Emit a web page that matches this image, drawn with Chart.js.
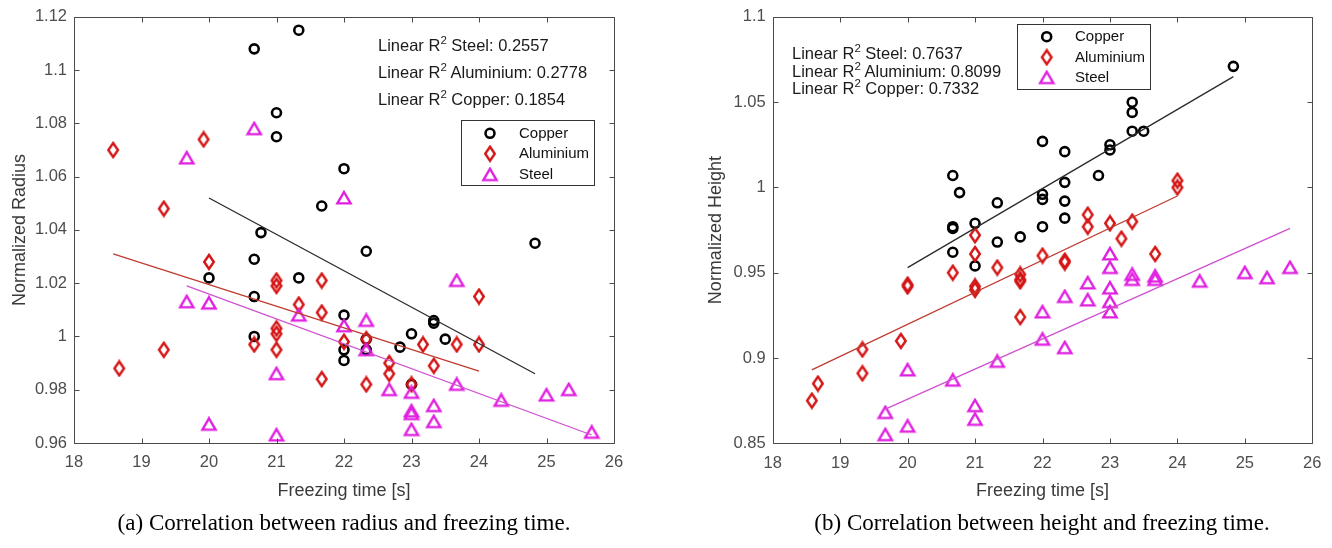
<!DOCTYPE html>
<html>
<head>
<meta charset="utf-8">
<script src="https://cdn.jsdelivr.net/npm/chart.js@4.4.0/dist/chart.umd.min.js"></script>
<style>
  html, body { margin:0; padding:0; background:#fff; }
  body { width:1332px; height:548px; position:relative; overflow:hidden; font-family:'Liberation Sans', Arial, sans-serif; }
  .wrap { position:absolute; top:0; }
  .ann { position:absolute; font-size:16.5px; line-height:20px; color:#1a1a1a; white-space:nowrap; }
  .ann sup { font-size:11.5px; vertical-align:0; position:relative; top:-7px; }
  .cap { position:absolute; width:700px; text-align:center; font-family:'Liberation Serif', 'Times New Roman', serif; font-size:23px; line-height:28px; color:#000; white-space:nowrap; }
</style>
</head>
<body>
<div class="wrap" style="left:0;width:640px;height:510px"><canvas id="chartA"></canvas></div>
<div class="wrap" style="left:700px;width:632px;height:510px"><canvas id="chartB"></canvas></div>

<div class="ann" style="left:378px;top:35px">Linear R<sup>2</sup> Steel: 0.2557</div>
<div class="ann" style="left:378px;top:62px">Linear R<sup>2</sup> Aluminium: 0.2778</div>
<div class="ann" style="left:378px;top:89px">Linear R<sup>2</sup> Copper: 0.1854</div>

<div class="ann" style="left:792px;top:43px">Linear R<sup>2</sup> Steel: 0.7637</div>
<div class="ann" style="left:792px;top:60.5px">Linear R<sup>2</sup> Aluminium: 0.8099</div>
<div class="ann" style="left:792px;top:78px">Linear R<sup>2</sup> Copper: 0.7332</div>

<div class="cap" style="left:-6px;top:509px">(a) Correlation between radius and freezing time.</div>
<div class="cap" style="left:692px;top:509px">(b) Correlation between height and freezing time.</div>

<script>
// ---------------- DATA ----------------
const materials = ['Copper', 'Aluminium', 'Steel'];

// (a) Normalized radius vs freezing time
const xTicks = [18, 19, 20, 21, 22, 23, 24, 25, 26];
const radiusTicks = [0.96, 0.98, 1.0, 1.02, 1.04, 1.06, 1.08, 1.1, 1.12];

const radiusCopperTime  = [20.67, 21.33, 21, 21, 22, 21.67, 20.77, 22.33, 20.67, 20, 20.67, 21.33, 20.67, 22, 22, 22, 22.33, 22.33, 24.83, 23.33, 23.33, 23.5, 23, 22.83, 23];
const radiusCopperValue = [1.108, 1.115, 1.084, 1.075, 1.063, 1.049, 1.039, 1.032, 1.029, 1.022, 1.015, 1.022, 1.000, 1.008, 0.995, 0.991, 0.999, 0.995, 1.035, 1.006, 1.005, 0.999, 1.001, 0.996, 0.982];

const radiusAluminiumTime  = [18.58, 19.33, 19.92, 20, 18.67, 19.33, 20.67, 21, 21, 21, 21, 21, 21.33, 21.67, 21.67, 21.67, 22, 22.33, 22.33, 22.67, 22.67, 23, 23.17, 23.33, 23.67, 24, 24];
const radiusAluminiumValue = [1.070, 1.048, 1.074, 1.028, 0.988, 0.995, 0.997, 1.021, 1.019, 1.003, 1.001, 0.995, 1.012, 1.021, 1.009, 0.984, 0.998, 0.999, 0.982, 0.990, 0.986, 0.982, 0.997, 0.989, 0.997, 1.015, 0.997];

const radiusSteelTime  = [19.67, 20.67, 22, 19.67, 20, 20, 21, 21, 21.33, 22, 22.33, 22.33, 22.67, 23, 23, 23, 23, 23.33, 23.33, 23.67, 23.67, 24.33, 25, 25.33, 25.67];
const radiusSteelValue = [1.067, 1.078, 1.052, 1.013, 1.0125, 0.967, 0.986, 0.963, 1.008, 1.004, 1.006, 0.995, 0.980, 0.979, 0.972, 0.971, 0.965, 0.974, 0.968, 1.021, 0.982, 0.976, 0.978, 0.980, 0.964];

// linear fit end points
const radiusFitCopperTime = [20, 24.83],    radiusFitCopperValue = [1.052, 0.986];
const radiusFitAluminiumTime = [18.58, 24], radiusFitAluminiumValue = [1.031, 0.987];
const radiusFitSteelTime = [19.67, 25.67],  radiusFitSteelValue = [1.019, 0.963];

// (b) Normalized height vs freezing time
const heightTicks = [0.85, 0.9, 0.95, 1.0, 1.05, 1.1];

const heightCopperTime  = [20.67, 20.77, 20.67, 20.67, 20.67, 21, 21, 21.33, 21.33, 21.67, 22, 22, 22, 22, 22.33, 22.33, 22.33, 22.33, 22.83, 23, 23, 23.33, 23.33, 23.33, 23.5, 24.83];
const heightCopperValue = [1.007, 0.997, 0.977, 0.976, 0.962, 0.979, 0.954, 0.991, 0.968, 0.971, 1.027, 0.996, 0.993, 0.977, 1.021, 1.003, 0.992, 0.982, 1.007, 1.025, 1.022, 1.050, 1.044, 1.033, 1.033, 1.071];

const heightAluminiumTime  = [18.58, 18.67, 19.33, 19.33, 19.9, 20, 20, 20.67, 21, 21, 21, 21, 21.33, 21.67, 21.67, 21.67, 21.67, 22, 22.33, 22.33, 22.67, 22.67, 23, 23.17, 23.33, 23.67, 24, 24];
const heightAluminiumValue = [0.875, 0.885, 0.905, 0.891, 0.910, 0.942, 0.943, 0.950, 0.972, 0.961, 0.942, 0.940, 0.953, 0.949, 0.946, 0.945, 0.924, 0.960, 0.957, 0.956, 0.984, 0.977, 0.979, 0.970, 0.980, 0.961, 1.004, 1.000];

const heightSteelTime  = [19.67, 19.67, 20, 20, 20.67, 21, 21, 21.33, 22, 22, 22.33, 22.33, 22.67, 22.67, 23, 23, 23, 23, 23, 23.33, 23.33, 23.67, 23.67, 24.33, 25, 25.33, 25.67];
const heightSteelValue = [0.868, 0.855, 0.893, 0.860, 0.887, 0.872, 0.864, 0.898, 0.927, 0.911, 0.906, 0.936, 0.944, 0.934, 0.961, 0.953, 0.941, 0.933, 0.927, 0.949, 0.946, 0.948, 0.946, 0.945, 0.950, 0.947, 0.953];

const heightFitCopperTime = [20, 24.83],    heightFitCopperValue = [0.953, 1.065];
const heightFitAluminiumTime = [18.58, 24], heightFitAluminiumValue = [0.893, 0.995];
const heightFitSteelTime = [19.67, 25.67],  heightFitSteelValue = [0.870, 0.976];

// ---------------- STYLE ----------------
const COL = { Copper:'#000000', Aluminium:'#d41515', Steel:'#e020e0' };
const FIT = { Copper:'#2a2a2a', Aluminium:'#c03a30', Steel:'#d050d0' };
const AXIS = '#4a4a4a';
const TICKTXT = '#4d4d4d';

function makeDiamond(color) {
  const c = document.createElement('canvas'); c.width = 14; c.height = 18;
  const g = c.getContext('2d');
  g.strokeStyle = color; g.lineWidth = 2.4; g.lineJoin = 'miter';
  g.beginPath(); g.moveTo(7, 2); g.lineTo(11.8, 9); g.lineTo(7, 16); g.lineTo(2.2, 9); g.closePath(); g.stroke();
  return c;
}
function makeTriangle(color) {
  const c = document.createElement('canvas'); c.width = 18; c.height = 16;
  const g = c.getContext('2d');
  g.strokeStyle = color; g.lineWidth = 2.4; g.lineJoin = 'miter';
  g.beginPath(); g.moveTo(9, 2); g.lineTo(15.6, 13.4); g.lineTo(2.4, 13.4); g.closePath(); g.stroke();
  return c;
}
const diamondImg = makeDiamond(COL.Aluminium);
const triangleImg = makeTriangle(COL.Steel);

function pts(xs, ys) { return xs.map((x, i) => ({ x: x, y: ys[i] })); }

function markerSets(cT, cV, aT, aV, sT, sV) {
  return [
    { label:'Copper', data:pts(cT, cV), pointStyle:'circle', pointRadius:4.5, pointBorderWidth:2.6,
      borderColor:COL.Copper, backgroundColor:'rgba(0,0,0,0)', pointBackgroundColor:'rgba(0,0,0,0)', order:3 },
    { label:'Aluminium', data:pts(aT, aV), pointStyle:diamondImg, pointRadius:6, borderColor:COL.Aluminium, order:2 },
    { label:'Steel', data:pts(sT, sV), pointStyle:triangleImg, pointRadius:6, borderColor:COL.Steel, order:1 }
  ];
}
function fitSet(name, xs, ys) {
  return { label:name + ' fit', isFit:true, data:pts(xs, ys), showLine:true, pointRadius:0,
           borderColor:FIT[name], borderWidth:1.3, order:0 };
}

const matlabAxes = {
  id:'matlabAxes',
  afterDraw(chart, args, o) {
    const ctx = chart.ctx, a = chart.chartArea, xs = chart.scales.x, ys = chart.scales.y;
    ctx.save();
    ctx.strokeStyle = AXIS; ctx.lineWidth = 1;
    const L = Math.round(a.left) + 0.5, R = Math.round(a.right) + 0.5, T = Math.round(a.top) + 0.5, B = Math.round(a.bottom) + 0.5;
    ctx.beginPath(); ctx.rect(L, T, R - L, B - T); ctx.stroke();
    const tl = 5;
    ctx.beginPath();
    xs.ticks.forEach(t => {
      const px = Math.round(xs.getPixelForValue(t.value)) + 0.5;
      ctx.moveTo(px, B); ctx.lineTo(px, B - tl);
      ctx.moveTo(px, T); ctx.lineTo(px, T + tl);
    });
    ys.ticks.forEach(t => {
      const py = Math.round(ys.getPixelForValue(t.value)) + 0.5;
      ctx.moveTo(L, py); ctx.lineTo(L + tl, py);
      ctx.moveTo(R, py); ctx.lineTo(R - tl, py);
    });
    ctx.stroke();

    // legend box (MATLAB style, inside axes)
    const lg = o.legend;
    ctx.fillStyle = '#ffffff';
    ctx.fillRect(lg.x, lg.y, lg.w, lg.h);
    ctx.strokeStyle = '#333333'; ctx.lineWidth = 1;
    ctx.strokeRect(Math.round(lg.x) + 0.5, Math.round(lg.y) + 0.5, lg.w, lg.h);
    ctx.font = "15px 'Liberation Sans', Arial, sans-serif";
    ctx.textBaseline = 'middle'; ctx.textAlign = 'left';
    const sets = chart.data.datasets.filter(d => !d.isFit);
    sets.forEach((d, i) => {
      const cy = lg.y + lg.rows[i], cx = lg.x + lg.mx;
      if (d.pointStyle === 'circle') {
        ctx.strokeStyle = d.borderColor; ctx.lineWidth = d.pointBorderWidth;
        ctx.beginPath(); ctx.arc(cx, cy, d.pointRadius, 0, Math.PI * 2); ctx.stroke();
      } else {
        const im = d.pointStyle;
        ctx.drawImage(im, cx - im.width / 2, cy - im.height / 2);
      }
      ctx.fillStyle = '#111111';
      ctx.fillText(d.label, lg.x + lg.tx, cy + 0.5);
    });
    ctx.restore();
  }
};

Chart.defaults.font.family = "'Liberation Sans', Arial, sans-serif";

function buildChart(id, datasets, yTicks, yTitle, geom) {
  const yMin = yTicks[0], yMax = yTicks[yTicks.length - 1];
  return new Chart(document.getElementById(id), {
    type:'scatter',
    data:{ datasets: datasets },
    plugins:[matlabAxes],
    options:{
      responsive:true, maintainAspectRatio:false, animation:false, devicePixelRatio:1,
      layout:{ padding:{ left:0, top:geom.top, right:geom.right, bottom:0 } },
      plugins:{ legend:{ display:false }, tooltip:{ enabled:false }, matlabAxes:{ legend:geom.legend } },
      scales:{
        x:{
          type:'linear', min:xTicks[0], max:xTicks[xTicks.length - 1],
          afterBuildTicks: s => { s.ticks = xTicks.map(v => ({ value:v })); },
          afterFit: s => { s.height = geom.xh; },
          grid:{ display:false, drawTicks:false }, border:{ display:false },
          ticks:{ color:TICKTXT, font:{ size:16.5 }, padding:10, maxRotation:0, autoSkip:false,
                  callback: v => String(v) },
          title:{ display:true, text:'Freezing time [s]', color:'#3a3a3a', font:{ size:18 }, padding:{ top:0, bottom:8 } }
        },
        y:{
          type:'linear', min:yMin, max:yMax,
          afterBuildTicks: s => { s.ticks = yTicks.map(v => ({ value:v })); },
          afterFit: s => { s.width = geom.yw; },
          grid:{ display:false, drawTicks:false }, border:{ display:false },
          ticks:{ color:TICKTXT, font:{ size:16.5 }, padding:7, autoSkip:false,
                  callback: v => String(Number(v.toFixed(3))) },
          title:{ display:true, text:yTitle, color:'#3a3a3a', font:{ size:18 }, padding:{ top:geom.ytp, bottom:0 } }
        }
      }
    }
  });
}

buildChart('chartA',
  markerSets(radiusCopperTime, radiusCopperValue, radiusAluminiumTime, radiusAluminiumValue, radiusSteelTime, radiusSteelValue)
    .concat([fitSet('Copper', radiusFitCopperTime, radiusFitCopperValue),
             fitSet('Aluminium', radiusFitAluminiumTime, radiusFitAluminiumValue),
             fitSet('Steel', radiusFitSteelTime, radiusFitSteelValue)]),
  radiusTicks, 'Normalized Radius',
  { top:16, right:26, xh:67, yw:74, ytp:9,
    legend:{ x:461, y:120, w:133, h:65, mx:29, tx:58, rows:[13.3, 33.7, 54.7] } });

buildChart('chartB',
  markerSets(heightCopperTime, heightCopperValue, heightAluminiumTime, heightAluminiumValue, heightSteelTime, heightSteelValue)
    .concat([fitSet('Copper', heightFitCopperTime, heightFitCopperValue),
             fitSet('Aluminium', heightFitAluminiumTime, heightFitAluminiumValue),
             fitSet('Steel', heightFitSteelTime, heightFitSteelValue)]),
  heightTicks, 'Normalized Height',
  { top:16.5, right:19.7, xh:66.7, yw:72.7, ytp:5,
    legend:{ x:316.7, y:24, w:133, h:65, mx:30, tx:58.3, rows:[12.7, 33.3, 53.7] } });
</script>
</body>
</html>
